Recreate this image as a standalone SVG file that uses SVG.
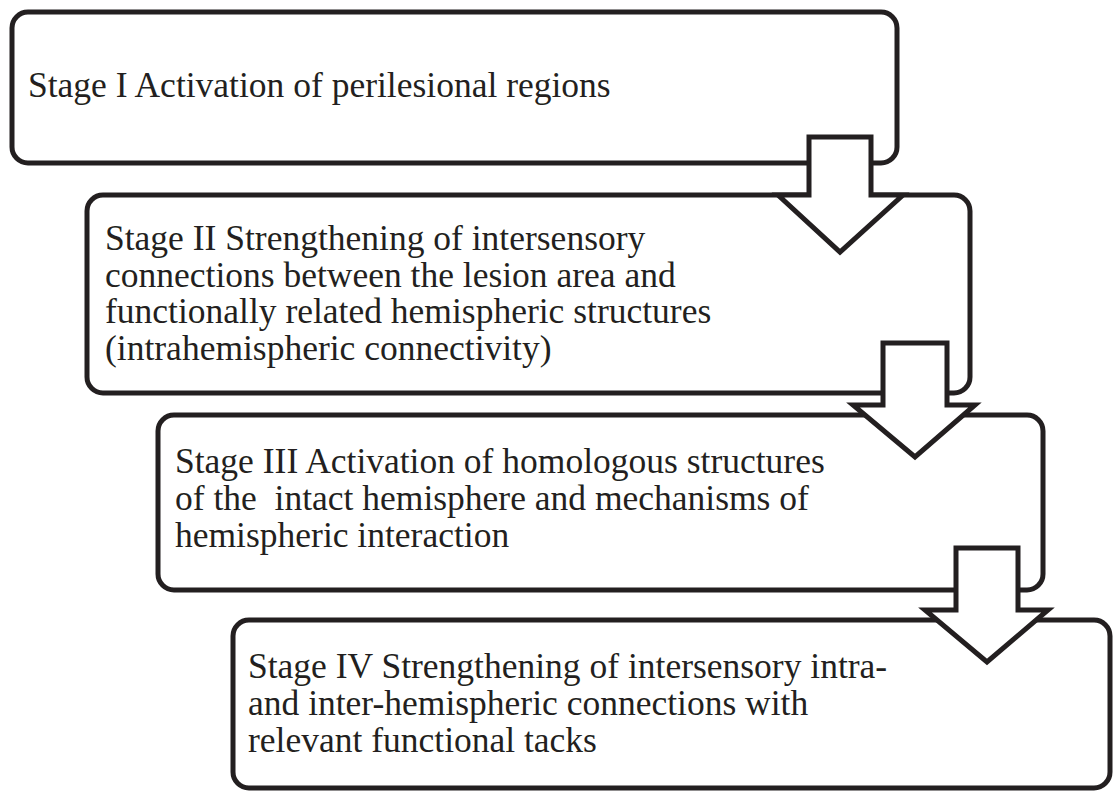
<svg xmlns="http://www.w3.org/2000/svg" width="1115" height="794" viewBox="0 0 1115 794">
<style>
.box{fill:#fff;stroke:#231f20;stroke-width:5}
.arr{fill:#fff;stroke:#231f20;stroke-width:5;stroke-linejoin:miter}
.t{font-family:"Liberation Serif","Times New Roman",serif;font-size:35.5px;fill:#231f20}
</style>
<rect width="1115" height="794" fill="#fff"/>
<g id="stage1">
<rect class="box" x="12" y="12" width="885" height="151" rx="16"/>
<text class="t" x="28" y="97">Stage I Activation of perilesional regions</text>
</g>
<g id="stage2">
<rect class="box" x="87" y="195" width="883" height="198" rx="16"/>
<text class="t" x="105" y="250">Stage II Strengthening of intersensory</text>
<text class="t" x="105" y="287">connections between the lesion area and</text>
<text class="t" x="105" y="323">functionally related hemispheric structures</text>
<text class="t" x="105" y="360">(intrahemispheric connectivity)</text>
</g>
<g id="stage3">
<rect class="box" x="158" y="415" width="885" height="175" rx="16"/>
<text class="t" x="175" y="473">Stage III Activation of homologous structures</text>
<text class="t" x="175" y="510" xml:space="preserve">of the  intact hemisphere and mechanisms of</text>
<text class="t" x="175" y="547">hemispheric interaction</text>
</g>
<g id="stage4">
<rect class="box" x="233" y="620" width="877" height="168" rx="16"/>
<text class="t" x="248" y="678">Stage IV Strengthening of intersensory intra-</text>
<text class="t" x="248" y="715">and inter-hemispheric connections with</text>
<text class="t" x="248" y="752">relevant functional tacks</text>
</g>
<g id="connectors">
<polygon class="arr" points="809,137 871,137 871,195 903,195 840,252 778,195 809,195"/>
<polygon class="arr" points="883,343 947,343 947,405 975,405 915,457 853,405 883,405"/>
<polygon class="arr" points="956,548 1018,548 1018,610 1048,610 987,662 925,610 956,610"/>
</g>
</svg>
